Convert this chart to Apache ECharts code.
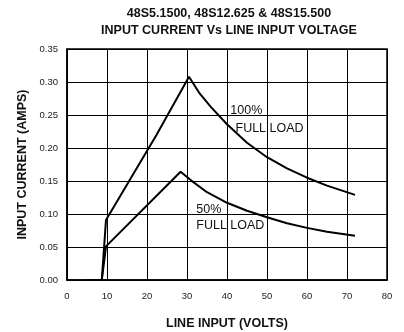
<!DOCTYPE html>
<html>
<head>
<meta charset="utf-8">
<script src="https://cdn.jsdelivr.net/npm/echarts@6/dist/echarts.min.js"></script>
<style>
  html, body { margin: 0; padding: 0; background: #fff; }
  #main { width: 404px; height: 332px; }
</style>
</head>
<body>
<div id="main"></div>
<script>
// values
var volts100 = [4.9, 8.7, 9.75, 22.4, 30.5, 33, 36, 40, 45, 50, 55, 60, 65, 72];
var amps100  = [0, 0, 0.091, 0.22, 0.308, 0.284, 0.262, 0.236, 0.208, 0.186, 0.169, 0.155, 0.143, 0.129];
var volts50  = [4.9, 8.7, 9.75, 28.4, 31, 35, 40, 45, 50, 55, 60, 65, 72];
var amps50   = [0, 0, 0.051, 0.164, 0.151, 0.133, 0.117, 0.105, 0.095, 0.086, 0.079, 0.073, 0.067];
var xTicks = [0, 10, 20, 30, 40, 50, 60, 70, 80];
var yTicks = [0, 0.05, 0.10, 0.15, 0.20, 0.25, 0.30, 0.35];

function pairs(xs, ys) {
    return xs.map(function (x, i) { return [x, ys[i]]; });
}

// text note: left edge at x, vertical centre at y (data units)
function note(text, x, y) {
    return {
        coord: [x, y],
        symbol: 'circle',
        symbolSize: 1,
        itemStyle: { color: 'rgba(0,0,0,0)' },
        label: {
            show: true, formatter: text, position: 'right', distance: 0,
            color: '#111', fontSize: 12.5, fontFamily: 'Liberation Sans'
        }
    };
}

var myChart = echarts.init(document.getElementById('main'));
var option = {
    animation: false,
    textStyle: { fontFamily: 'Liberation Sans' },
    title: {
        text: '48S5.1500, 48S12.625 & 48S15.500\nINPUT CURRENT Vs LINE INPUT VOLTAGE',
        left: 224,
        top: 0,
        textAlign: 'center',
        textStyle: { fontSize: 12.5, fontWeight: 'bold', color: '#111', lineHeight: 17, fontFamily: 'Liberation Sans' }
    },
    grid: {
        left: 67, right: 17, top: 49, bottom: 52,
        outerBoundsMode: 'none',
        show: true, borderColor: '#000', borderWidth: 1.5
    },
    xAxis: {
        type: 'value',
        min: xTicks[0], max: xTicks[xTicks.length - 1], interval: 10,
        name: 'LINE INPUT (VOLTS)',
        nameLocation: 'middle',
        nameGap: 37,
        nameTextStyle: { fontSize: 12.5, fontWeight: 'bold', color: '#111' },
        axisLine: { lineStyle: { color: '#000', width: 1.5 } },
        axisTick: { show: false },
        axisLabel: { fontSize: 9.5, color: '#222', margin: 11 },
        splitLine: { show: true, lineStyle: { color: '#000', width: 1 } }
    },
    yAxis: {
        type: 'value',
        min: yTicks[0], max: yTicks[yTicks.length - 1], interval: 0.05,
        name: 'INPUT CURRENT (AMPS)',
        nameLocation: 'middle',
        nameGap: 36,
        nameTextStyle: { fontSize: 12.5, fontWeight: 'bold', color: '#111' },
        axisLine: { show: true, lineStyle: { color: '#000', width: 1.5 } },
        axisTick: { show: false },
        axisLabel: { fontSize: 9.5, color: '#222', margin: 9, formatter: function (v) { return v.toFixed(2); } },
        splitLine: { show: true, lineStyle: { color: '#000', width: 1 } }
    },
    series: [
        {
            name: '100%',
            type: 'line',
            data: pairs(volts100, amps100),
            symbol: 'none',
            clip: false,
            z: 5,
            lineStyle: { color: '#000', width: 2 },
            markPoint: {
                data: [note('100%', 40.7, 0.256), note('FULL LOAD', 42, 0.23)]
            }
        },
        {
            name: '50%',
            type: 'line',
            data: pairs(volts50, amps50),
            symbol: 'none',
            clip: false,
            z: 5,
            lineStyle: { color: '#000', width: 2 },
            markPoint: {
                data: [note('50%', 32.2, 0.107), note('FULL LOAD', 32.2, 0.082)]
            }
        }
    ]
};
myChart.setOption(option);
</script>
</body>
</html>
